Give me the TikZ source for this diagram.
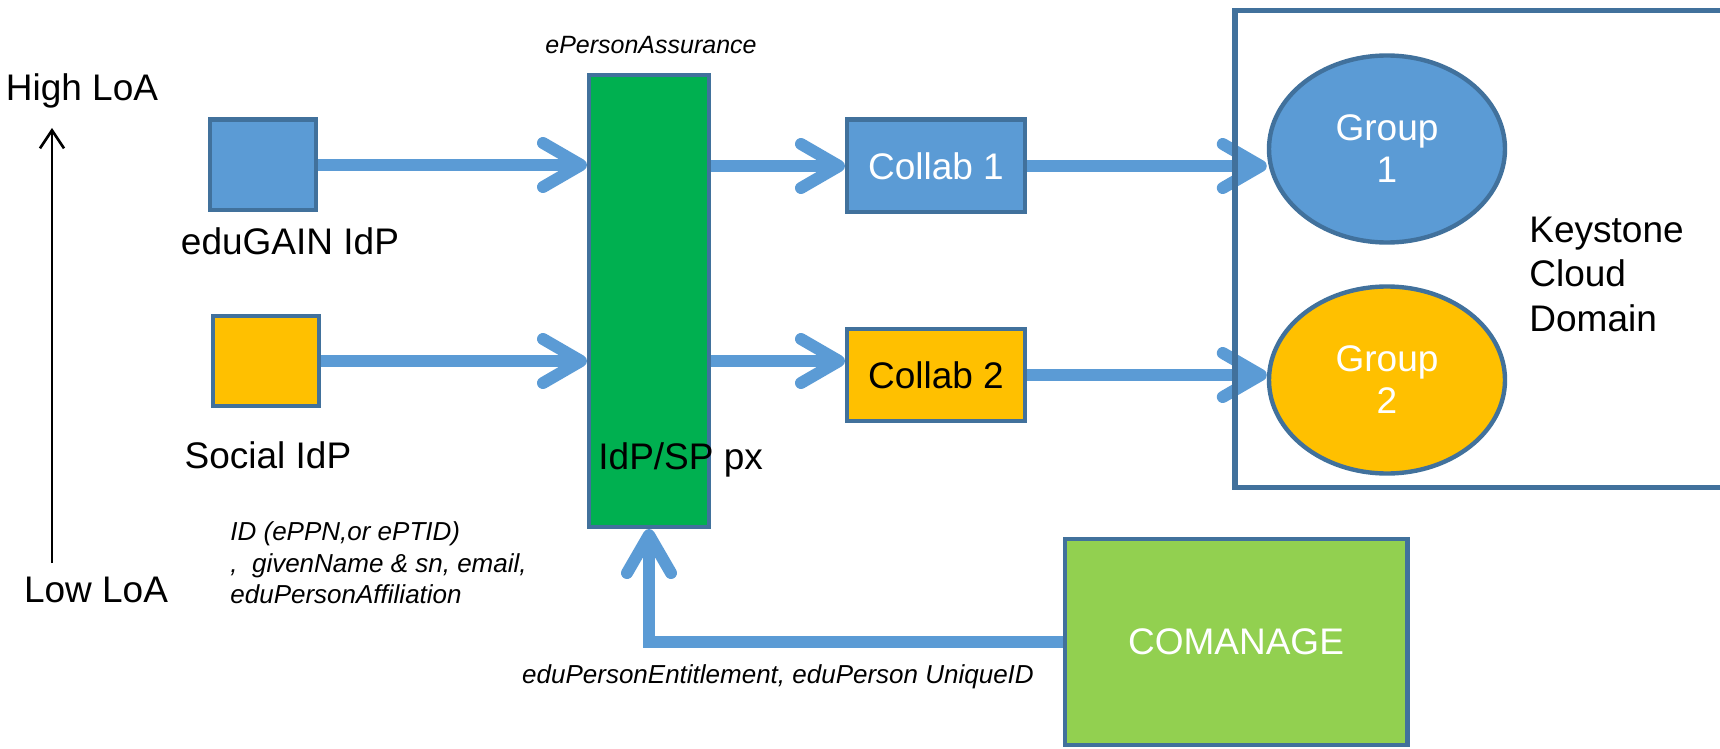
\documentclass[tikz,border=0pt]{standalone}
\usepackage{fontspec}
\setmainfont{Liberation Sans}
\usetikzlibrary{arrows.meta,positioning,shapes.geometric}
\definecolor{officeblue}{HTML}{5B9BD5}
\definecolor{officeedge}{HTML}{41719C}
\definecolor{officeorange}{HTML}{FFC000}
\definecolor{officegreen}{HTML}{00B050}
\definecolor{limegreen}{HTML}{92D050}

\begin{document}
\begin{tikzpicture}[x=0.5pt,y=-0.5pt,
	big/.style={font=\fontsize{18.5}{21}\selectfont},
	small/.style={font=\fontsize{13}{15.75}\selectfont\itshape},
	box node/.style={rectangle,draw=officeedge,line width=2.2pt,inner sep=0pt},
	group node/.style={ellipse,draw=officeedge,line width=2.2pt,inner sep=0pt,minimum width=118pt,minimum height=93.5pt,text=white,align=center,big},
	flow/.style={draw=officeblue,line width=6pt,-{Straight Barb[length=19pt,width=22pt,round]}}]

		\useasboundingbox (0,0) rectangle (1720,749);
		\clip (0,0) rectangle (1720,749);

		% level of assurance
		\node (highloa) [big,anchor=base] at (82,101) {High LoA};
		\node (lowloa) [big,anchor=base] at (96,602) {Low LoA};
		\coordinate (loabottom) at (52,563);
		\coordinate (loatop) at (52,128);
		\draw[line width=1.3pt,-{Straight Barb[length=9pt,width=12pt]}] (loabottom) to (loatop);

		% identity providers
		\node (edugain) [box node,fill=officeblue,minimum width=52.8pt,minimum height=45.3pt] at (263,165) {};
		\node (edugainlabel) [big,anchor=base] at (290,255) {eduGAIN IdP};
		\node (social) [box node,fill=officeorange,minimum width=52.8pt,minimum height=44.8pt] at (266,361) {};
		\node (sociallabel) [big,anchor=base] at (268,468) {Social IdP};
		\node (attrs) [small,align=left,anchor=west,inner sep=0pt] at (230,563) {ID (ePPN,or ePTID)\\,~ givenName \& sn, email,\\eduPersonAffiliation};

		% proxy
		\node (idp) [box node,fill=officegreen,minimum width=59.8pt,minimum height=225.8pt] at (649,301) {};
		\node (assurance) [small,font=\fontsize{12.5}{15}\selectfont\itshape,anchor=base] at (651,54) {ePersonAssurance};
		\node (idplabel) [big,anchor=base west,inner sep=0pt] at (598,469) {IdP/SP px};

		% collaborations
		\node (collab1) [box node,fill=officeblue,text=white,big,minimum width=88.8pt,minimum height=46.3pt] at (936,166) {Collab 1};
		\node (collab2) [box node,fill=officeorange,big,minimum width=88.8pt,minimum height=45.8pt] at (936,375) {Collab 2};

		% keystone groups
		\node (group1) [group node,fill=officeblue] at (1387,149) {Group\\1};
		\node (group2) [group node,fill=officeorange] at (1387,380) {Group\\2};
		\node (domainlabel) [anchor=west,align=left,inner sep=0pt,font=\fontsize{18.5}{22.25}\selectfont] at (1529,274) {Keystone\\Cloud\\Domain};

		% registry
		\node (comanage) [box node,fill=limegreen,text=white,big,minimum width=171.3pt,minimum height=102.8pt] at (1236,642) {COMANAGE};
		\node (entitlement) [small,anchor=base] at (778,683) {eduPersonEntitlement, eduPerson UniqueID};

		\draw[flow] (edugain.east) to (edugain.east -| idp.west);
		\draw[flow] (social.east) to (social.east -| idp.west);
		\draw[flow] (idp.east |- collab1.west) to (collab1.west);
		\draw[flow] (idp.east |- social.east) to (collab2.west |- social.east);
		\draw[flow] (collab1.east) to (group1.west |- collab1.east);
		\draw[flow] (collab2.east) to (group2.west |- collab2.east);
		\draw[flow] (comanage.west) -| (idp.south);

		\node (keystone) [box node,line width=2.6pt,minimum width=261pt,minimum height=238.5pt] at (1496,249) {};

		;
	\end{tikzpicture}
\end{document}
